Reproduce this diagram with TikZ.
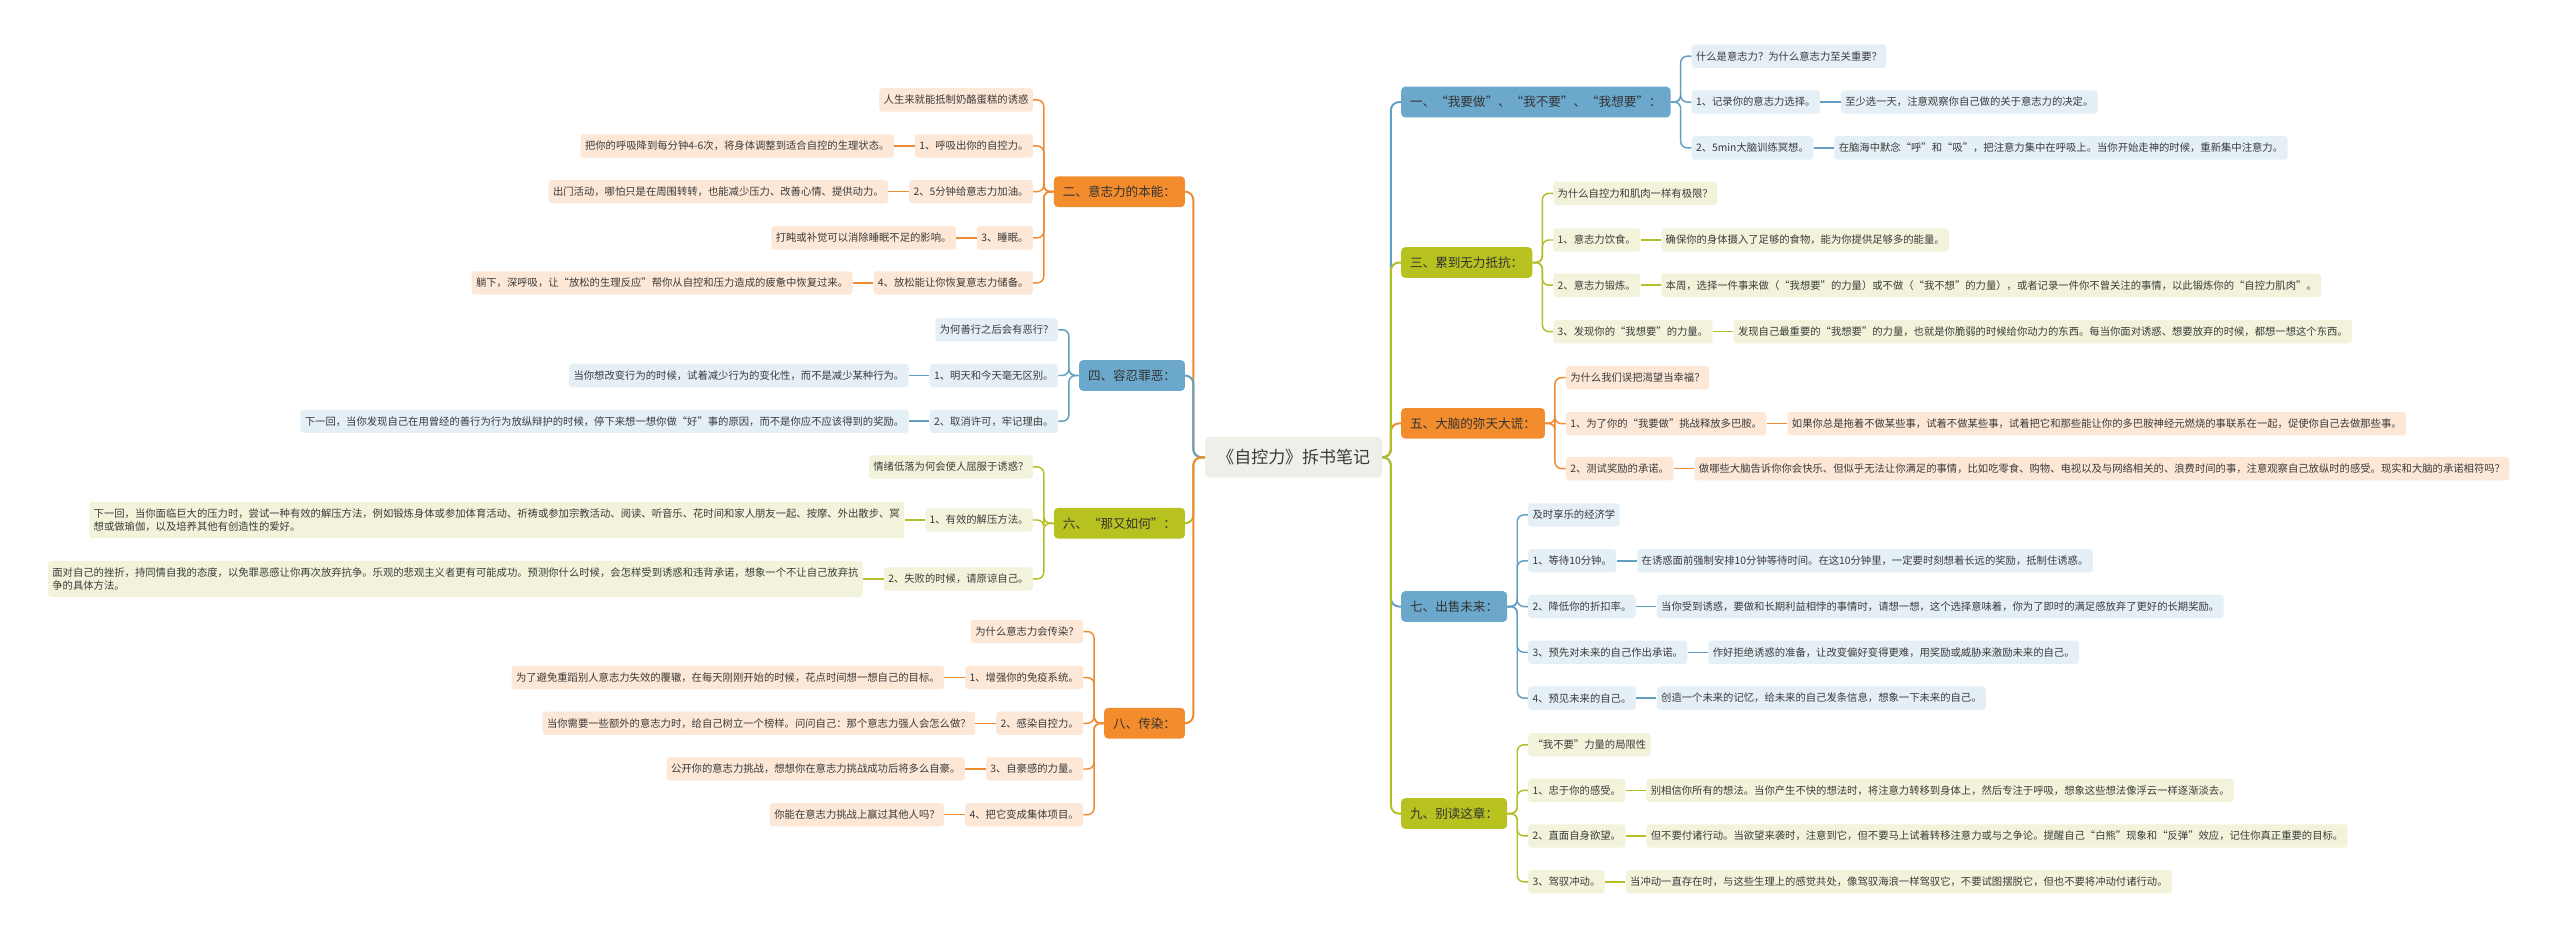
\documentclass[tikz,border=0pt]{standalone}
\usepackage{fontspec}
\setmainfont{Noto Sans CJK SC}
\newfontfamily\quanjiao[CharacterWidth=Full]{Noto Sans CJK SC}
\newcommand{\yh}[1]{{\quanjiao “}#1{\quanjiao ”}}

\definecolor{lan}{HTML}{6CA8CB}
\definecolor{lanxian}{HTML}{629FC3}
\definecolor{lanqian}{HTML}{E5EFF6}
\definecolor{cheng}{HTML}{F28C2D}
\definecolor{chengxian}{HTML}{EF8B30}
\definecolor{chengqian}{HTML}{FDE7D6}
\definecolor{lv}{HTML}{B7C11F}
\definecolor{lvxian}{HTML}{B4BE26}
\definecolor{lvqian}{HTML}{F2F3DA}
\definecolor{hui}{HTML}{EFEFE9}
\definecolor{wenzi}{HTML}{3B3B3B}

\begin{document}
\begin{tikzpicture}[x=1pt,y=-1pt,
    zhuti/.style={fill=hui, text=wenzi, rounded corners=3pt, inner xsep=7.5pt, inner ysep=0pt, minimum height=25pt, font=\fontsize{10.4}{12}\selectfont},
    fz/.style={fill=#1, text=black!80, rounded corners=2.5pt, inner xsep=5.5pt, inner ysep=0pt, minimum height=18.8pt, font=\fontsize{7.7}{9}\selectfont},
    yz/.style={fill=#1, text=wenzi, rounded corners=2pt, inner xsep=2.7pt, inner ysep=4pt, minimum height=14.3pt, align=left, font=\fontsize{6.33}{8.2}\selectfont},
    zx/.style={draw=#1, line width=1.2pt, rounded corners=5pt},
    xx/.style={draw=#1, line width=0.9pt, rounded corners=4pt}]
    \fill[white] (0,0) rectangle (1568,575.1);
    \useasboundingbox (0,0) rectangle (1568,575.1);

    % 中心主题
    \node[zhuti] (zt) at (792.4,280.1) {《自控力》拆书笔记};

    % 一级分支
    \node[fz=lan, anchor=west] (b1) at (858,62.5) {一、\yh{我要做}、\yh{我不要}、\yh{我想要}：};
    \node[fz=cheng, anchor=east] (b2) at (726,117.4) {二、意志力的本能：};
    \node[fz=lv, anchor=west] (b3) at (858,160.8) {三、累到无力抵抗：};
    \node[fz=lan, anchor=east] (b4) at (726,230) {四、容忍罪恶：};
    \node[fz=cheng, anchor=west] (b5) at (858,259.3) {五、大脑的弥天大谎：};
    \node[fz=lv, anchor=east] (b6) at (726,320.5) {六、\yh{那又如何}：};
    \node[fz=lan, anchor=west] (b7) at (858,371.5) {七、出售未来：};
    \node[fz=cheng, anchor=east] (b8) at (726,443) {八、传染：};
    \node[fz=lv, anchor=west] (b9) at (858,498.3) {九、别读这章：};

    \coordinate (p1) at ([xshift=12.5pt]b1.east);
    \coordinate (p2) at ([xshift=-12.5pt]b2.west);
    \coordinate (p3) at ([xshift=12.5pt]b3.east);
    \coordinate (p4) at ([xshift=-12.5pt]b4.west);
    \coordinate (p5) at ([xshift=12.5pt]b5.east);
    \coordinate (p6) at ([xshift=-12.5pt]b6.west);
    \coordinate (p7) at ([xshift=12.5pt]b7.east);
    \coordinate (p8) at ([xshift=-12.5pt]b8.west);
    \coordinate (p9) at ([xshift=12.5pt]b9.east);

    % 一、我要做 我不要 我想要
    \node[yz=lanqian, anchor=west] (c1a) at (p1 |- 0,34.4) {什么是意志力？为什么意志力至关重要？};
    \node[yz=lanqian, anchor=west] (c11) at (p1 |- 0,62.5) {1、记录你的意志力选择。};
    \node[yz=lanqian, anchor=west] (c12) at (p1 |- 0,90.6) {2、5min大脑训练冥想。};
    \node[yz=lanqian, anchor=west] (g11) at ([xshift=12.5pt]c11.east) {至少选一天，注意观察你自己做的关于意志力的决定。};
    \node[yz=lanqian, anchor=west] (g12) at ([xshift=12.5pt]c12.east) {在脑海中默念\yh{呼}和\yh{吸}，把注意力集中在呼吸上。当你开始走神的时候，重新集中注意力。};

    % 二、意志力的本能
    \node[yz=chengqian, anchor=east] (c2a) at (p2 |- 0,61.2) {人生来就能抵制奶酪蛋糕的诱惑};
    \node[yz=chengqian, anchor=east] (c21) at (p2 |- 0,89.4) {1、呼吸出你的自控力。};
    \node[yz=chengqian, anchor=east] (c22) at (p2 |- 0,117.4) {2、5分钟给意志力加油。};
    \node[yz=chengqian, anchor=east] (c23) at (p2 |- 0,145.7) {3、睡眠。};
    \node[yz=chengqian, anchor=east] (c24) at (p2 |- 0,173.3) {4、放松能让你恢复意志力储备。};
    \node[yz=chengqian, anchor=east] (g21) at ([xshift=-12.5pt]c21.west) {把你的呼吸降到每分钟4-6次，将身体调整到适合自控的生理状态。};
    \node[yz=chengqian, anchor=east] (g22) at ([xshift=-12.5pt]c22.west) {出门活动，哪怕只是在周围转转，也能减少压力、改善心情、提供动力。};
    \node[yz=chengqian, anchor=east] (g23) at ([xshift=-12.5pt]c23.west) {打盹或补觉可以消除睡眠不足的影响。};
    \node[yz=chengqian, anchor=east] (g24) at ([xshift=-12.5pt]c24.west) {躺下，深呼吸，让\yh{放松的生理反应}帮你从自控和压力造成的疲惫中恢复过来。};

    % 三、累到无力抵抗
    \node[yz=lvqian, anchor=west] (c3a) at (p3 |- 0,118.4) {为什么自控力和肌肉一样有极限？};
    \node[yz=lvqian, anchor=west] (c31) at (p3 |- 0,147) {1、意志力饮食。};
    \node[yz=lvqian, anchor=west] (c32) at (p3 |- 0,174.7) {2、意志力锻炼。};
    \node[yz=lvqian, anchor=west] (c33) at (p3 |- 0,203.1) {3、发现你的\yh{我想要}的力量。};
    \node[yz=lvqian, anchor=west] (g31) at ([xshift=12.5pt]c31.east) {确保你的身体摄入了足够的食物，能为你提供足够多的能量。};
    \node[yz=lvqian, anchor=west] (g32) at ([xshift=12.5pt]c32.east) {本周，选择一件事来做（\yh{我想要}的力量）或不做（\yh{我不想}的力量），或者记录一件你不曾关注的事情，以此锻炼你的\yh{自控力肌肉}。};
    \node[yz=lvqian, anchor=west] (g33) at ([xshift=12.5pt]c33.east) {发现自己最重要的\yh{我想要}的力量，也就是你脆弱的时候给你动力的东西。每当你面对诱惑、想要放弃的时候，都想一想这个东西。};

    % 四、容忍罪恶
    \node[yz=lanqian, anchor=east] (c4a) at (p4 |- 0,202) {为何善行之后会有恶行？};
    \node[yz=lanqian, anchor=east] (c41) at (p4 |- 0,230) {1、明天和今天毫无区别。};
    \node[yz=lanqian, anchor=east] (c42) at (p4 |- 0,258) {2、取消许可，牢记理由。};
    \node[yz=lanqian, anchor=east] (g41) at ([xshift=-12.5pt]c41.west) {当你想改变行为的时候，试着减少行为的变化性，而不是减少某种行为。};
    \node[yz=lanqian, anchor=east] (g42) at ([xshift=-12.5pt]c42.west) {下一回，当你发现自己在用曾经的善行为行为放纵辩护的时候，停下来想一想你做\yh{好}事的原因，而不是你应不应该得到的奖励。};

    % 五、大脑的弥天大谎
    \node[yz=chengqian, anchor=west] (c5a) at (p5 |- 0,231.3) {为什么我们误把渴望当幸福？};
    \node[yz=chengqian, anchor=west] (c51) at (p5 |- 0,259.5) {1、为了你的\yh{我要做}挑战释放多巴胺。};
    \node[yz=chengqian, anchor=west] (c52) at (p5 |- 0,287) {2、测试奖励的承诺。};
    \node[yz=chengqian, anchor=west] (g51) at ([xshift=12.5pt]c51.east) {如果你总是拖着不做某些事，试着不做某些事，试着把它和那些能让你的多巴胺神经元燃烧的事联系在一起，促使你自己去做那些事。};
    \node[yz=chengqian, anchor=west] (g52) at ([xshift=12.5pt]c52.east) {做哪些大脑告诉你你会快乐、但似乎无法让你满足的事情，比如吃零食、购物、电视以及与网络相关的、浪费时间的事，注意观察自己放纵时的感受。现实和大脑的承诺相符吗？};

    % 六、那又如何
    \node[yz=lvqian, anchor=east] (c6a) at (p6 |- 0,286) {情绪低落为何会使人屈服于诱惑？};
    \node[yz=lvqian, anchor=east] (c61) at (p6 |- 0,318.5) {1、有效的解压方法。};
    \node[yz=lvqian, anchor=east] (c62) at (p6 |- 0,354.6) {2、失败的时候，请原谅自己。};
    \node[yz=lvqian, anchor=east] (g61) at ([xshift=-12.5pt]c61.west) {下一回，当你面临巨大的压力时，尝试一种有效的解压方法，例如锻炼身体或参加体育活动、祈祷或参加宗教活动、阅读、听音乐、花时间和家人朋友一起、按摩、外出散步、冥\\想或做瑜伽，以及培养其他有创造性的爱好。};
    \node[yz=lvqian, anchor=east] (g62) at ([xshift=-12.5pt]c62.west) {面对自己的挫折，持同情自我的态度，以免罪恶感让你再次放弃抗争。乐观的悲观主义者更有可能成功。预测你什么时候，会怎样受到诱惑和违背承诺，想象一个不让自己放弃抗\\争的具体方法。};

    % 七、出售未来
    \node[yz=lanqian, anchor=west] (c7a) at (p7 |- 0,315.4) {及时享乐的经济学};
    \node[yz=lanqian, anchor=west] (c71) at (p7 |- 0,343.5) {1、等待10分钟。};
    \node[yz=lanqian, anchor=west] (c72) at (p7 |- 0,371.5) {2、降低你的折扣率。};
    \node[yz=lanqian, anchor=west] (c73) at (p7 |- 0,399.5) {3、预先对未来的自己作出承诺。};
    \node[yz=lanqian, anchor=west] (c74) at (p7 |- 0,427.6) {4、预见未来的自己。};
    \node[yz=lanqian, anchor=west] (g71) at ([xshift=12.5pt]c71.east) {在诱惑面前强制安排10分钟等待时间。在这10分钟里，一定要时刻想着长远的奖励，抵制住诱惑。};
    \node[yz=lanqian, anchor=west] (g72) at ([xshift=12.5pt]c72.east) {当你受到诱惑，要做和长期利益相悖的事情时，请想一想，这个选择意味着，你为了即时的满足感放弃了更好的长期奖励。};
    \node[yz=lanqian, anchor=west] (g73) at ([xshift=12.5pt]c73.east) {作好拒绝诱惑的准备，让改变偏好变得更难，用奖励或威胁来激励未来的自己。};
    \node[yz=lanqian, anchor=west] (g74) at ([xshift=12.5pt]c74.east) {创造一个未来的记忆，给未来的自己发条信息，想象一下未来的自己。};

    % 八、传染
    \node[yz=chengqian, anchor=east] (c8a) at (p8 |- 0,386.8) {为什么意志力会传染？};
    \node[yz=chengqian, anchor=east] (c81) at (p8 |- 0,415) {1、增强你的免疫系统。};
    \node[yz=chengqian, anchor=east] (c82) at (p8 |- 0,443) {2、感染自控力。};
    \node[yz=chengqian, anchor=east] (c83) at (p8 |- 0,471) {3、自豪感的力量。};
    \node[yz=chengqian, anchor=east] (c84) at (p8 |- 0,499) {4、把它变成集体项目。};
    \node[yz=chengqian, anchor=east] (g81) at ([xshift=-12.5pt]c81.west) {为了避免重蹈别人意志力失效的覆辙，在每天刚刚开始的时候，花点时间想一想自己的目标。};
    \node[yz=chengqian, anchor=east] (g82) at ([xshift=-12.5pt]c82.west) {当你需要一些额外的意志力时，给自己树立一个榜样。问问自己：那个意志力强人会怎么做？};
    \node[yz=chengqian, anchor=east] (g83) at ([xshift=-12.5pt]c83.west) {公开你的意志力挑战，想想你在意志力挑战成功后将多么自豪。};
    \node[yz=chengqian, anchor=east] (g84) at ([xshift=-12.5pt]c84.west) {你能在意志力挑战上赢过其他人吗？};

    % 九、别读这章
    \node[yz=lvqian, anchor=west] (c9a) at (p9 |- 0,456.2) {\yh{我不要}力量的局限性};
    \node[yz=lvqian, anchor=west] (c91) at (p9 |- 0,484.1) {1、忠于你的感受。};
    \node[yz=lvqian, anchor=west] (c92) at (p9 |- 0,512) {2、直面自身欲望。};
    \node[yz=lvqian, anchor=west] (c93) at (p9 |- 0,540.1) {3、驾驭冲动。};
    \node[yz=lvqian, anchor=west] (g91) at ([xshift=12.5pt]c91.east) {别相信你所有的想法。当你产生不快的想法时，将注意力转移到身体上，然后专注于呼吸，想象这些想法像浮云一样逐渐淡去。};
    \node[yz=lvqian, anchor=west] (g92) at ([xshift=12.5pt]c92.east) {但不要付诸行动。当欲望来袭时，注意到它，但不要马上试着转移注意力或与之争论。提醒自己\yh{白熊}现象和\yh{反弹}效应，记住你真正重要的目标。};
    \node[yz=lvqian, anchor=west] (g93) at ([xshift=12.5pt]c93.east) {当冲动一直存在时，与这些生理上的感觉共处，像驾驭海浪一样驾驭它，不要试图摆脱它，但也不要将冲动付诸行动。};

    % 中心到一级分支
    \draw[zx=lanxian] (zt.east) -- ++(5,0) |- (b1.west);
    \draw[zx=chengxian] (zt.east) -- ++(5,0) |- (b5.west);
    \draw[zx=lvxian] (zt.east) -- ++(5,0) |- (b3.west);
    \draw[zx=lanxian] (zt.east) -- ++(5,0) |- (b7.west);
    \draw[zx=lvxian] (zt.east) -- ++(5,0) |- (b9.west);
    \draw[zx=chengxian] (zt.west) -- ++(-7,0) |- (b2.east);
    \draw[zx=lanxian] (zt.west) -- ++(-7,0) |- (b4.east);
    \draw[zx=lvxian] (zt.west) -- ++(-7,0) |- (b6.east);
    \draw[zx=chengxian] (zt.west) -- ++(-7,0) |- (b8.east);

    % 一级到二级
    \draw[xx=lanxian] (b1.east) -- ++(6,0) |- (c1a.west);
    \draw[xx=lanxian] (b1.east) -- ++(6,0) |- (c11.west);
    \draw[xx=lanxian] (b1.east) -- ++(6,0) |- (c12.west);
    \draw[xx=chengxian] (b2.west) -- ++(-6,0) |- (c2a.east);
    \draw[xx=chengxian] (b2.west) -- ++(-6,0) |- (c21.east);
    \draw[xx=chengxian] (b2.west) -- ++(-6,0) |- (c22.east);
    \draw[xx=chengxian] (b2.west) -- ++(-6,0) |- (c23.east);
    \draw[xx=chengxian] (b2.west) -- ++(-6,0) |- (c24.east);
    \draw[xx=lvxian] (b3.east) -- ++(6,0) |- (c3a.west);
    \draw[xx=lvxian] (b3.east) -- ++(6,0) |- (c31.west);
    \draw[xx=lvxian] (b3.east) -- ++(6,0) |- (c32.west);
    \draw[xx=lvxian] (b3.east) -- ++(6,0) |- (c33.west);
    \draw[xx=lanxian] (b4.west) -- ++(-6,0) |- (c4a.east);
    \draw[xx=lanxian] (b4.west) -- ++(-6,0) |- (c41.east);
    \draw[xx=lanxian] (b4.west) -- ++(-6,0) |- (c42.east);
    \draw[xx=chengxian] (b5.east) -- ++(6,0) |- (c5a.west);
    \draw[xx=chengxian] (b5.east) -- ++(6,0) |- (c51.west);
    \draw[xx=chengxian] (b5.east) -- ++(6,0) |- (c52.west);
    \draw[xx=lvxian] (b6.west) -- ++(-6,0) |- (c6a.east);
    \draw[xx=lvxian] (b6.west) -- ++(-6,0) |- (c61.east);
    \draw[xx=lvxian] (b6.west) -- ++(-6,0) |- (c62.east);
    \draw[xx=lanxian] (b7.east) -- ++(6,0) |- (c7a.west);
    \draw[xx=lanxian] (b7.east) -- ++(6,0) |- (c71.west);
    \draw[xx=lanxian] (b7.east) -- ++(6,0) |- (c72.west);
    \draw[xx=lanxian] (b7.east) -- ++(6,0) |- (c73.west);
    \draw[xx=lanxian] (b7.east) -- ++(6,0) |- (c74.west);
    \draw[xx=chengxian] (b8.west) -- ++(-6,0) |- (c8a.east);
    \draw[xx=chengxian] (b8.west) -- ++(-6,0) |- (c81.east);
    \draw[xx=chengxian] (b8.west) -- ++(-6,0) |- (c82.east);
    \draw[xx=chengxian] (b8.west) -- ++(-6,0) |- (c83.east);
    \draw[xx=chengxian] (b8.west) -- ++(-6,0) |- (c84.east);
    \draw[xx=lvxian] (b9.east) -- ++(6,0) |- (c9a.west);
    \draw[xx=lvxian] (b9.east) -- ++(6,0) |- (c91.west);
    \draw[xx=lvxian] (b9.east) -- ++(6,0) |- (c92.west);
    \draw[xx=lvxian] (b9.east) -- ++(6,0) |- (c93.west);

    % 二级到三级
    \draw[xx=lanxian] (c11.east) -- (g11.west);
    \draw[xx=lanxian] (c12.east) -- (g12.west);
    \draw[xx=chengxian] (c21.west) -- (g21.east);
    \draw[xx=chengxian] (c22.west) -- (g22.east);
    \draw[xx=chengxian] (c23.west) -- (g23.east);
    \draw[xx=chengxian] (c24.west) -- (g24.east);
    \draw[xx=lvxian] (c31.east) -- (g31.west);
    \draw[xx=lvxian] (c32.east) -- (g32.west);
    \draw[xx=lvxian] (c33.east) -- (g33.west);
    \draw[xx=lanxian] (c41.west) -- (g41.east);
    \draw[xx=lanxian] (c42.west) -- (g42.east);
    \draw[xx=chengxian] (c51.east) -- (g51.west);
    \draw[xx=chengxian] (c52.east) -- (g52.west);
    \draw[xx=lvxian] (c61.west) -- (g61.east);
    \draw[xx=lvxian] (c62.west) -- (g62.east);
    \draw[xx=lanxian] (c71.east) -- (g71.west);
    \draw[xx=lanxian] (c72.east) -- (g72.west);
    \draw[xx=lanxian] (c73.east) -- (g73.west);
    \draw[xx=lanxian] (c74.east) -- (g74.west);
    \draw[xx=chengxian] (c81.west) -- (g81.east);
    \draw[xx=chengxian] (c82.west) -- (g82.east);
    \draw[xx=chengxian] (c83.west) -- (g83.east);
    \draw[xx=chengxian] (c84.west) -- (g84.east);
    \draw[xx=lvxian] (c91.east) -- (g91.west);
    \draw[xx=lvxian] (c92.east) -- (g92.west);
    \draw[xx=lvxian] (c93.east) -- (g93.west);
\end{tikzpicture}
\end{document}
